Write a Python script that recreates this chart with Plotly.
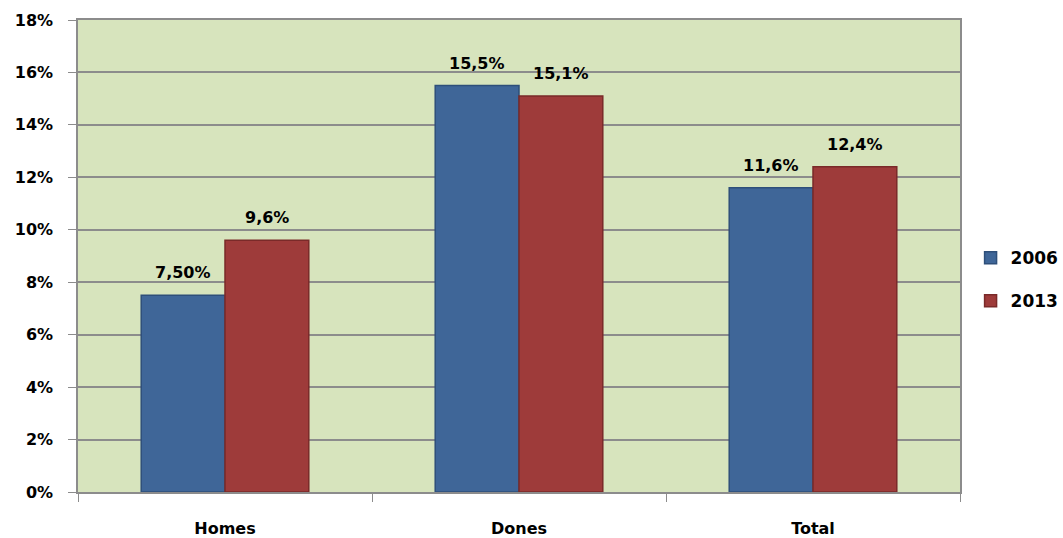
import plotly.graph_objects as go

categories = ["Homes", "Dones", "Total"]
series_names = ["2006", "2013"]
values_2006 = [7.5, 15.5, 11.6]
values_2013 = [9.6, 15.1, 12.4]
labels_2006 = ["7,50%", "15,5%", "11,6%"]
labels_2013 = ["9,6%", "15,1%", "12,4%"]

blue = "#3F6698"
red = "#9E3B3A"
font_family = "DejaVu Sans"

fig = go.Figure()
fig.add_trace(go.Bar(
    x=categories, y=values_2006, name=series_names[0], legendgroup="a",
    marker=dict(color=blue, line=dict(color="#2E4F7A", width=1.5)),
))
fig.add_trace(go.Bar(
    x=categories, y=values_2013, name=series_names[1], legendgroup="b",
    marker=dict(color=red, line=dict(color="#7A2A29", width=1.5)),
))

for cat, v, t in zip(categories, values_2006, labels_2006):
    fig.add_annotation(x=cat, y=v, text=t, showarrow=False, xshift=-42, yshift=11,
                       yanchor="bottom",
                       font=dict(family=font_family, size=16, color="black", weight="bold"))
for cat, v, t in zip(categories, values_2013, labels_2013):
    fig.add_annotation(x=cat, y=v, text=t, showarrow=False, xshift=42, yshift=11,
                       yanchor="bottom",
                       font=dict(family=font_family, size=16, color="black", weight="bold"))

fig.update_layout(
    width=1063, height=538,
    margin=dict(l=78, r=103, t=20, b=46, autoexpand=False),
    paper_bgcolor="white",
    plot_bgcolor="#D7E4BD",
    barmode="group",
    bargap=0.43,
    bargroupgap=0,
    font=dict(family=font_family, size=14, color="black"),
    legend=dict(
        x=1.012, y=0.45, xanchor="left", yanchor="middle",
        font=dict(family=font_family, size=17, color="black", weight="bold"),
        tracegroupgap=18, itemwidth=30,
    ),
    xaxis=dict(
        showgrid=False, showline=True, linecolor="#8C8C8C", linewidth=1.5,
        mirror=True, ticks="outside", tickson="boundaries", ticklen=8,
        tickcolor="#8C8C8C", ticklabelstandoff=21, automargin=False,
        tickfont=dict(family=font_family, size=16, color="black", weight="bold"),
    ),
    yaxis=dict(
        range=[0, 18], dtick=2, ticksuffix="%",
        showgrid=True, gridcolor="#8C8C8C", gridwidth=1.5,
        showline=True, linecolor="#8C8C8C", linewidth=1.5, mirror=True,
        ticks="outside", ticklen=8, tickcolor="#8C8C8C", automargin=False,
        zeroline=False, ticklabelstandoff=12,
        tickfont=dict(family=font_family, size=16, color="black", weight="bold"),
    ),
)

fig.write_html("out.html")
